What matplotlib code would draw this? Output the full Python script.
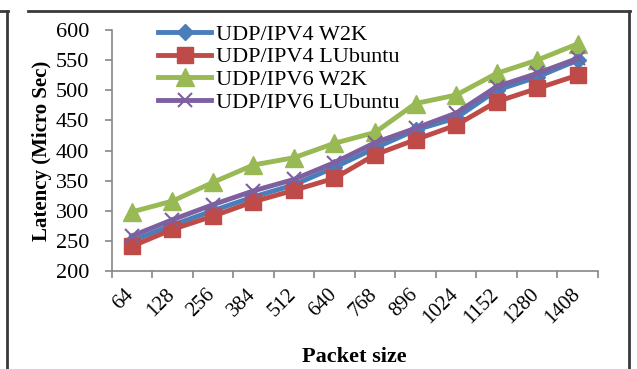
import numpy as np
import matplotlib.pyplot as plt
import matplotlib.transforms as mtransforms
from matplotlib.lines import Line2D

plt.rcParams["font.family"] = ["Liberation Serif", "DejaVu Serif"]

packet_sizes = ["64", "128", "256", "384", "512", "640", "768", "896",
                "1024", "1152", "1280", "1408"]

ipv4_w2k = [250, 276, 300, 323, 343, 372, 404, 434, 454, 500, 522, 550]
ipv4_lubuntu = [241, 269, 291, 315, 334, 354, 393, 418, 442, 481, 503, 525]
ipv6_w2k = [298, 316, 347, 376, 388, 412, 430, 478, 492, 528, 550, 577]
ipv6_lubuntu = [258, 285, 310, 333, 352, 380, 413, 437, 462, 506, 528, 553]

W, H = 637, 369
fig = plt.figure(figsize=(W / 100, H / 100), dpi=100)

left, right, top, bottom = 111.5, 598, 30, 271
ax = fig.add_axes([left / W, 1 - bottom / H, (right - left) / W, (bottom - top) / H])

x = np.arange(len(packet_sizes))
ax.plot(x, ipv4_w2k, color="#4A7EBB", lw=3.5, marker="D", ms=8,
        label="UDP/IPV4 W2K")
ax.plot(x, ipv4_lubuntu, color="#BE4B48", lw=3.5, marker="s", ms=12,
        label="UDP/IPV4 LUbuntu")
ax.plot(x, ipv6_w2k, color="#98B954", lw=3.5, marker="^", ms=13,
        label="UDP/IPV6 W2K")
ax.plot(x, ipv6_lubuntu, color="#7D60A0", lw=3.5, marker="x", ms=10, mew=1.5,
        label="UDP/IPV6 LUbuntu")

ax.set_xlim(-0.5, len(packet_sizes) - 0.5)
ax.set_ylim(200, 600)
ax.set_yticks(range(200, 601, 50))
ax.set_xticks(x)
ax.set_xticklabels(packet_sizes, rotation=45, ha="right", fontsize=15)
ax.set_xticks(np.arange(-0.5, len(packet_sizes)), minor=True)

grey = "#868686"
for side in ("top", "right"):
    ax.spines[side].set_visible(False)
for side in ("left", "bottom"):
    ax.spines[side].set_color(grey)
    ax.spines[side].set_linewidth(1.2)

ax.tick_params(axis="x", which="major", length=0, pad=10)
ax.tick_params(axis="x", which="minor", length=5, width=1.2, color=grey)
ax.tick_params(axis="y", length=5, width=1.2, color=grey, labelsize=16, pad=11)

# nudge the slanted category labels so their ends sit under the markers
shift = mtransforms.ScaledTranslation(6 / 100, 0, fig.dpi_scale_trans)
for lbl in ax.get_xticklabels():
    lbl.set_transform(lbl.get_transform() + shift)

ax.set_ylabel("Latency (Micro Sec)", fontsize=15, fontweight="bold")
ax.yaxis.set_label_coords((52 - left) / (right - left), 0.5)
ax.set_xlabel("Packet size", fontsize=16, fontweight="bold")
ax.xaxis.set_label_coords(0.5, (bottom - 347) / (bottom - top))

ax.legend(loc="upper left", bbox_to_anchor=(158 / W, 1 - 24 / H),
          bbox_transform=fig.transFigure, frameon=False, fontsize=16,
          handlelength=2.4, handletextpad=0.2, labelspacing=0.1,
          borderpad=0, borderaxespad=0)

# outer frame
frame = dict(color="#3a3a3a", lw=2, transform=None)
fig.add_artist(Line2D([0, 8], [H - 11, H - 11], **frame))
fig.add_artist(Line2D([28, 630], [H - 11, H - 11], **frame))
fig.add_artist(Line2D([7, 7], [0, H - 11], **frame))
fig.add_artist(Line2D([629, 629], [0, H - 11], **frame))

fig.savefig("out.png", dpi=100)
